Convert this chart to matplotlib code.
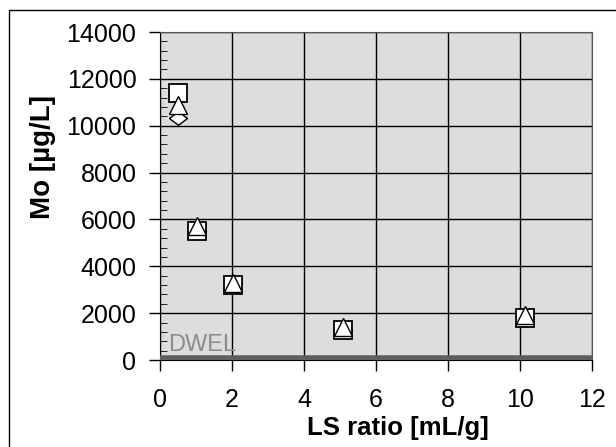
import matplotlib.pyplot as plt
from matplotlib.patches import Rectangle
from matplotlib.ticker import MultipleLocator

# Leaching results, Mo vs LS ratio (three replicates)
ls_ratio = [0.5, 1.03, 2.03, 5.08, 10.14]
mo_square = [11400, 5500, 3200, 1300, 1800]
mo_triangle = [10900, 5700, 3300, 1400, 1900]
mo_diamond = [10350, 5500, 3300, 1300, 1850]

dwel_x = [0, 12]
dwel_y = [100, 100]

plt.rcParams['font.family'] = ['Liberation Sans', 'DejaVu Sans']

fig = plt.figure(figsize=(6.16, 4.47), dpi=100)
# outer frame of the original figure (only left and top edges visible)
fig.patches.append(Rectangle((9 / 616, -0.1), 1.2, 1.1 - 10 / 447,
                             transform=fig.transFigure, fill=False,
                             edgecolor='black', linewidth=1.0))

ax = fig.add_axes([160 / 616, 1 - 360 / 447, 432 / 616, 328 / 447])
ax.set_facecolor('#dddddd')

# DWEL limit line
ax.plot(dwel_x, dwel_y, color='#5f5f5f', linewidth=4, zorder=3)
ax.text(0.22, 180, 'DWEL', color='#8c8c8c', fontsize=17, va='bottom', zorder=4)

diamond = [(-1, 0), (0, 0.75), (1, 0), (0, -0.75), (-1, 0)]
ax.plot(ls_ratio, mo_diamond, linestyle='none', marker=diamond, markersize=13,
        markerfacecolor='white', markeredgecolor='black', markeredgewidth=1.0, zorder=4)
ax.plot(ls_ratio, mo_square, linestyle='none', marker='s', markersize=12.5,
        markerfacecolor='white', markeredgecolor='black', markeredgewidth=1.3, zorder=5)
ax.plot(ls_ratio, mo_triangle, linestyle='none', marker='^', markersize=13,
        markerfacecolor='white', markeredgecolor='black', markeredgewidth=1.0, zorder=6)

ax.set_xlim(0, 12)
ax.set_ylim(0, 14000)
ax.xaxis.set_major_locator(MultipleLocator(2))
ax.yaxis.set_major_locator(MultipleLocator(2000))
ax.yaxis.set_minor_locator(MultipleLocator(400))
ax.grid(True, which='major', color='black', linewidth=1.0)
ax.set_axisbelow(True)

ax.tick_params(axis='both', which='major', labelsize=18, length=8, width=1, direction='out')
ax.tick_params(axis='x', pad=12)
ax.tick_params(axis='y', pad=9)
ax.tick_params(axis='y', which='minor', length=5, direction='in')
for side in ['top', 'right']:
    ax.spines[side].set_color('#555555')
    ax.spines[side].set_linewidth(0.8)

ax.set_xlabel('LS ratio [mL/g]', fontsize=18.5, fontweight='bold')
ax.set_ylabel('Mo [µg/L]', fontsize=20, fontweight='bold')
ax.xaxis.set_label_coords(0.55, -0.172)
ax.yaxis.set_label_coords(-0.24, 0.62)

fig.savefig('out.png', dpi=100)
